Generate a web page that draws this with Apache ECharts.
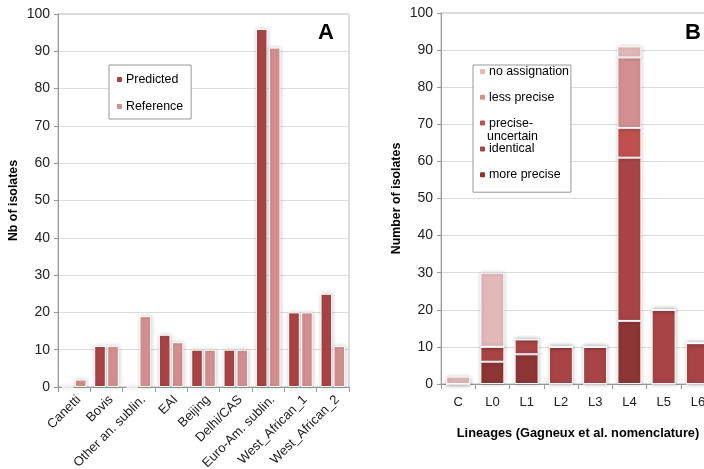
<!DOCTYPE html>
<html><head><meta charset="utf-8">
<script src="https://cdn.jsdelivr.net/npm/echarts@6/dist/echarts.min.js"></script>
<style>html,body{margin:0;padding:0;background:#fff}#c{width:704px;height:469px}</style>
</head><body><div id="c"></div>
<script>
// Panel A
const catA = ['Canetti','Bovis','Other an. sublin.','EAI','Beijing','Delhi/CAS','Euro-Am. sublin.','West_African_1','West_African_2'];
const predicted = [0, 11, 0, 14, 10, 10, 96, 20, 25];
const reference = [2, 11, 19, 12, 10, 10, 91, 20, 11];
// Panel B
const catB = ['C','L0','L1','L2','L3','L4','L5','L6'];
const morePrecise = [0, 6, 8, 0, 0, 17, 0, 0];
const identical = [0, 4, 4, 10, 10, 44, 20, 11];
const preciseUncertain = [0, 0, 0, 0, 0, 8, 0, 0];
const lessPrecise = [0, 0, 0, 0, 0, 19, 0, 0];
const noAssignation = [2, 20, 0, 0, 0, 3, 0, 0];
const yTicks = [0, 10, 20, 30, 40, 50, 60, 70, 80, 90, 100];

const font = 'Liberation Sans, Arial, sans-serif';
const chart = echarts.init(document.getElementById('c'));
const barStyle = (c) => ({color: c, borderColor: '#fff', borderWidth: 1, shadowColor: 'rgba(0,0,0,0.2)', shadowBlur: 4, shadowOffsetX: 0.5, shadowOffsetY: 0});
const yAxisCommon = {
  type: 'value', min: yTicks[0], max: yTicks[yTicks.length-1], interval: 10,
  axisLine: {show: true, lineStyle: {color: '#999'}},
  axisTick: {show: true, length: 4, lineStyle: {color: '#999'}},
  axisLabel: {color: '#222', fontSize: 14, fontFamily: font, margin: 8},
  splitLine: {lineStyle: {color: '#dcdcdc'}},
  nameLocation: 'middle', nameGap: 38,
  nameTextStyle: {fontWeight: 'bold', fontSize: 12.4, fontFamily: font, color: '#000'}
};
const xAxisCommon = {
  type: 'category',
  axisLine: {show: true, onZero: false, lineStyle: {color: '#999'}},
  axisTick: {show: true, length: 5, alignWithLabel: false, lineStyle: {color: '#999'}},
  splitLine: {show: false}
};
const lessC = '#D49090';
const legendText = {fontSize: 12.4, fontFamily: font, color: '#000', padding: [0,0,0,-2]};
const option = {
  animation: false,
  backgroundColor: '#fff',
  grid: [
    {left: 58, top: 14, right: 355, bottom: 82, outerBoundsMode: 'none', containLabel: false, show: true, borderColor: '#bbb', borderWidth: 1, backgroundColor: 'transparent'},
    {left: 441, top: 13, width: 274, bottom: 85, outerBoundsMode: 'none', containLabel: false, show: true, borderColor: '#bbb', borderWidth: 1, backgroundColor: 'transparent'}
  ],
  xAxis: [
    Object.assign({}, xAxisCommon, {gridIndex: 0, data: catA,
      axisLabel: {rotate: 45, interval: 0, color: '#222', fontSize: 13, fontFamily: font, margin: 6, verticalAlign: 'top'}}),
    Object.assign({}, xAxisCommon, {gridIndex: 1, data: catB,
      axisLabel: {interval: 0, color: '#222', fontSize: 13, fontFamily: font, margin: 12},
      name: 'Lineages (Gagneux et al. nomenclature)', nameLocation: 'middle', nameGap: 43,
      nameTextStyle: {fontWeight: 'bold', fontSize: 12.8, fontFamily: font, color: '#000'}})
  ],
  yAxis: [
    Object.assign({}, yAxisCommon, {gridIndex: 0, name: 'Nb of isolates'}),
    Object.assign({}, yAxisCommon, {gridIndex: 1, name: 'Number of isolates'})
  ],
  legend: [
    {data: ['Predicted','Reference'], orient: 'vertical', left: 109, top: 65, itemWidth: 7, itemHeight: 7, itemGap: 14,
     padding: [8, 8, 6, 6], backgroundColor: '#fff', borderColor: '#999', borderWidth: 1, borderRadius: 0,
     textStyle: Object.assign({lineHeight: 13}, legendText)},
    {data: ['no assignation','less precise','precise-uncertain','identical','more precise'], orient: 'vertical',
     left: 473, top: 65, itemWidth: 7, itemHeight: 7, itemGap: 12.8,
     padding: [0, 2, 11, 5], backgroundColor: '#fff', borderColor: '#999', borderWidth: 1, borderRadius: 0,
     formatter: (n) => n === 'precise-uncertain' ? 'precise-' : n,
     textStyle: Object.assign({lineHeight: 13}, legendText)}
  ],
  graphic: [
    {type: 'text', left: 318, top: 22, style: {text: 'A', font: 'bold 22px ' + font, fill: '#000'}},
    {type: 'text', left: 685, top: 22, style: {text: 'B', font: 'bold 22px ' + font, fill: '#000'}},
    {type: 'text', x: 487, y: 136.5, z: 200, style: {text: 'uncertain', font: '12.4px ' + font, fill: '#000', verticalAlign: 'middle'}}
  ],
  series: [
    {name: 'Predicted', type: 'bar', xAxisIndex: 0, yAxisIndex: 0, data: predicted, barGap: '12%', barCategoryGap: '24%', itemStyle: barStyle('#A84446')},
    {name: 'Reference', type: 'bar', xAxisIndex: 0, yAxisIndex: 0, data: reference, itemStyle: barStyle(lessC)},
    {name: 'more precise', type: 'bar', stack: 'b', xAxisIndex: 1, yAxisIndex: 1, data: morePrecise, barWidth: '70%', itemStyle: barStyle('#8E3536')},
    {name: 'identical', type: 'bar', stack: 'b', xAxisIndex: 1, yAxisIndex: 1, data: identical, itemStyle: barStyle('#A84446')},
    {name: 'precise-uncertain', type: 'bar', stack: 'b', xAxisIndex: 1, yAxisIndex: 1, data: preciseUncertain, itemStyle: barStyle('#C0504D')},
    {name: 'less precise', type: 'bar', stack: 'b', xAxisIndex: 1, yAxisIndex: 1, data: lessPrecise, itemStyle: barStyle(lessC)},
    {name: 'no assignation', type: 'bar', stack: 'b', xAxisIndex: 1, yAxisIndex: 1, data: noAssignation, itemStyle: barStyle('#E2B8B8')}
  ]
};
chart.setOption(option);
</script></body></html>
